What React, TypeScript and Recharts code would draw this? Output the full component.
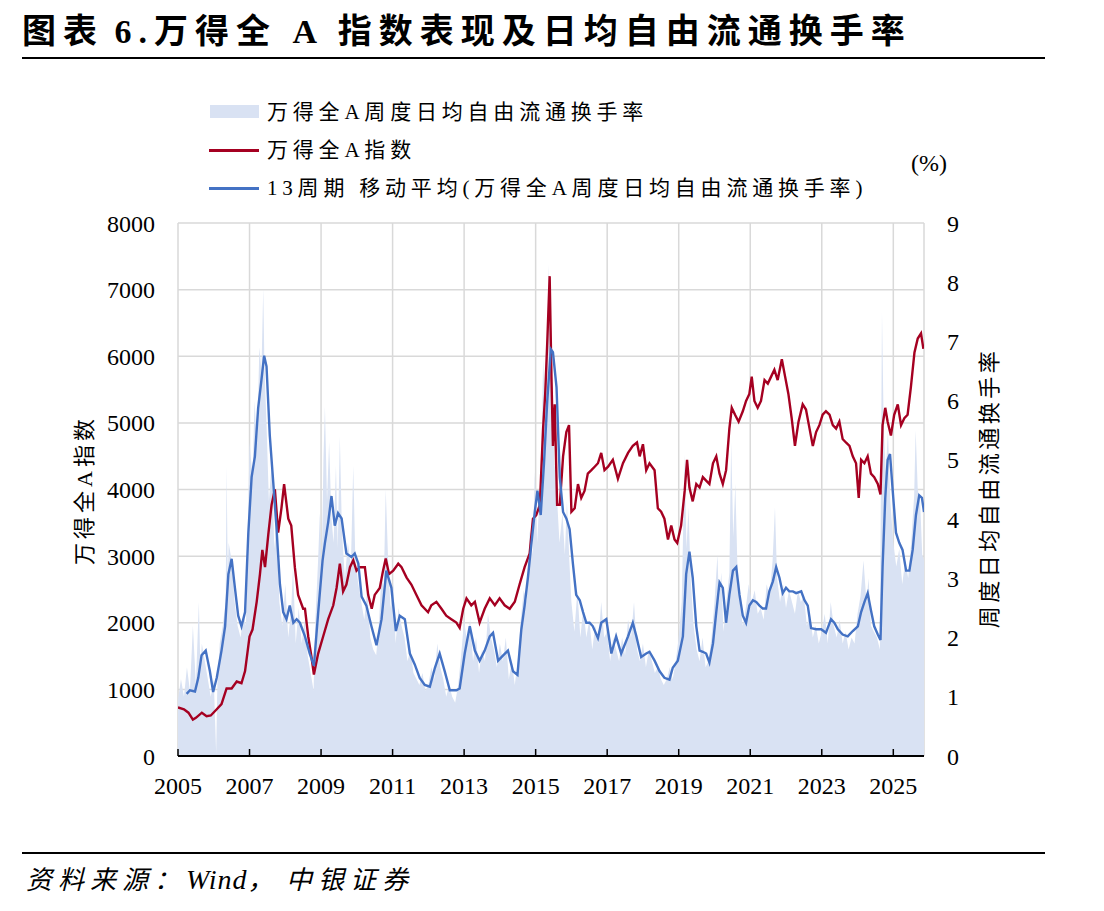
import React from 'react';
import { ComposedChart, Area, Line, XAxis, YAxis, CartesianGrid } from 'recharts';

// m = months since Jan 2005
const turnoverPts: [number, number][] = [
  [0, 0.95], [1, 1.3], [2, 1.0], [3, 1.5], [4, 1.1], [5, 2.2], [6, 1.2], [7, 2.6], [7.5, 1.5], [8, 1.9],
  [9, 1.6], [10, 1.3], [11, 1.0], [12, 1.3], [12.8, 0.05], [13.2, 1.2], [14, 1.9], [15, 2.2], [16, 2.6], [16.3, 4.9],
  [16.7, 3.0], [17, 3.6], [18, 3.3], [19, 2.6], [20, 2.2], [21, 2.0], [22, 2.4], [22.8, 2.2], [23.5, 4.0], [24, 5.3],
  [25, 4.7], [25.7, 6.0], [26.5, 5.2], [27.3, 6.9], [28, 6.5], [28.6, 7.9], [29, 6.6], [29.7, 5.6], [30.5, 4.3], [31.5, 5.0],
  [32.3, 3.5], [33, 3.9], [34, 2.6], [35, 2.2], [36, 2.9], [37, 2.0], [38, 2.5], [38.6, 3.2], [39.5, 1.9], [40.5, 2.5],
  [41.5, 1.9], [42.5, 2.3], [43.5, 1.7], [44.5, 1.4], [45.5, 1.1], [46, 2.2], [47, 3.3], [47.6, 4.1], [48.2, 3.1], [48.8, 5.0],
  [49.3, 5.9], [50, 4.3], [50.7, 5.3], [51.5, 4.0], [52.2, 3.6], [53, 4.9], [53.6, 3.5], [54.3, 5.4], [55, 3.8], [56, 3.0],
  [57, 3.6], [58, 3.2], [58.8, 4.9], [59.5, 3.3], [60.5, 2.9], [61.5, 2.6], [62.5, 2.3], [63.5, 2.8], [64.5, 2.0], [65.5, 1.8],
  [66.5, 1.7], [67.5, 2.3], [68.3, 3.1], [69, 2.8], [69.7, 4.5], [70.5, 3.3], [71.3, 2.5], [72.3, 2.9], [73, 1.9], [74, 2.5],
  [75, 2.2], [76, 2.0], [77, 1.6], [78, 1.8], [79, 1.4], [80, 1.3], [81, 1.2], [82, 1.4], [83, 1.1], [84, 1.2],
  [85, 1.5], [86, 1.3], [87, 1.9], [88, 1.5], [89, 1.3], [90, 1.0], [91, 1.2], [92, 1.0], [93, 0.9], [94, 1.2],
  [95, 1.7], [96, 2.3], [97, 1.9], [98, 2.3], [99, 1.6], [100, 2.0], [101, 1.4], [102, 1.8], [103, 1.6], [104, 2.4],
  [105, 2.0], [106, 1.8], [107, 1.5], [108, 1.9], [109, 1.6], [110, 2.0], [111, 1.3], [112, 1.6], [113, 1.2], [114, 1.6],
  [115, 2.3], [116, 2.8], [117, 2.6], [118, 3.8], [119, 3.4], [119.7, 4.8], [120.5, 3.6], [121.3, 4.4], [122, 5.3], [122.5, 6.7],
  [123.2, 5.8], [124, 7.4], [124.4, 8.3], [124.8, 6.9], [125.5, 6.4], [126.2, 5.0], [127, 4.5], [128, 3.6], [129, 4.1], [129.8, 3.4],
  [130.5, 4.3], [131.3, 3.3], [132, 2.6], [133, 2.1], [134, 2.8], [135, 2.0], [136, 2.5], [137, 2.0], [138, 2.3], [139, 1.8],
  [140, 2.2], [141, 1.9], [142, 2.6], [143, 2.0], [144, 2.1], [145, 1.6], [146, 2.0], [147, 1.8], [148, 1.6], [149, 2.0],
  [150, 1.7], [151, 2.3], [152, 2.0], [153, 2.6], [154, 1.8], [155, 1.6], [156, 1.9], [157, 1.5], [158, 1.8], [159, 1.6],
  [160, 1.4], [161, 1.5], [162, 1.3], [163, 1.2], [164, 1.3], [165, 1.5], [166, 1.3], [167, 1.6], [168, 2.0], [169, 2.6],
  [170, 5.1], [170.6, 3.5], [171.3, 4.2], [172, 3.0], [173, 2.2], [174, 1.8], [175, 1.6], [176, 2.0], [177, 1.5], [178, 1.6],
  [179, 2.0], [180, 2.6], [181, 3.4], [181.5, 2.6], [182.3, 3.1], [183, 2.1], [184, 2.6], [185, 3.1], [185.6, 5.3], [186.3, 3.7],
  [187, 4.6], [187.8, 3.0], [188.5, 2.6], [189.5, 2.2], [190.5, 2.5], [191.5, 2.9], [192.5, 2.6], [193.5, 2.8], [194.5, 2.4], [195.5, 2.5],
  [196.5, 2.3], [197.5, 2.9], [198.5, 2.7], [199.5, 3.3], [200.3, 4.2], [201, 3.0], [202, 2.6], [203, 2.9], [204, 2.5], [205, 2.8],
  [206, 2.6], [207, 2.4], [208, 2.8], [209, 2.6], [210, 2.7], [211, 2.2], [212, 2.4], [213, 2.0], [214, 2.2], [215, 1.9],
  [216, 2.1], [217, 2.4], [218, 1.9], [219, 2.6], [220, 2.2], [221, 2.0], [222, 2.3], [223, 1.9], [224, 2.1], [225, 1.8],
  [226, 2.0], [227, 1.9], [228, 2.4], [229, 2.7], [230, 3.3], [231, 2.6], [231.7, 3.0], [232.5, 2.2], [233.5, 2.1], [234.5, 2.0],
  [235.5, 1.8], [236.2, 7.5], [236.8, 5.5], [237.5, 4.8], [238.2, 5.5], [239, 4.3], [240, 3.6], [241, 3.2], [242, 3.5], [243, 2.9],
  [244, 3.3], [245, 3.0], [246, 3.6], [247, 4.4], [247.5, 5.5], [248.2, 4.5], [249, 4.3], [249.7, 3.4], [250.3, 3.3],
];

const indexPts: [number, number][] = [
  [0, 728], [2, 702], [3.5, 650], [5, 546], [6, 572], [8, 650], [9.6, 598], [11, 608], [13, 702], [14.6, 780],
  [16.3, 1014], [18, 1014], [19.7, 1118], [21.3, 1092], [22.5, 1274], [24, 1794], [25, 1898], [26.4, 2314], [27.5, 2730], [28.3, 3094],
  [29.2, 2834], [30.3, 3328], [31.4, 3770], [32.5, 4004], [33.6, 3354], [34.7, 3718], [35.6, 4082], [37, 3562], [38, 3458], [39.2, 2834],
  [40.3, 2418], [42, 2210], [42.6, 2210], [43.7, 1794], [44.8, 1482], [45.6, 1222], [47, 1534], [48.7, 1794], [50.4, 2054], [52.1, 2262],
  [53.2, 2522], [54.3, 2886], [55.4, 2470], [56.5, 2574], [57.7, 2834], [58.8, 2938], [59.9, 2782], [61, 2834], [62.7, 2834], [63.8, 2418],
  [65, 2210], [66, 2418], [67.7, 2522], [68.8, 2782], [69.7, 2964], [70.8, 2730], [72.2, 2782], [73.9, 2886], [75, 2834], [76.7, 2678],
  [78.3, 2574], [80, 2418], [81.7, 2262], [83.9, 2158], [85, 2262], [86.7, 2314], [88.4, 2210], [90, 2106], [91.7, 2054], [93.4, 2002],
  [94.5, 1924], [95.7, 2210], [96.8, 2366], [98.4, 2262], [99.6, 2314], [101.2, 2002], [102.9, 2210], [104.6, 2366], [106.3, 2262], [107.9, 2366],
  [109.6, 2262], [111.3, 2210], [113, 2314], [114.6, 2574], [116.3, 2834], [118, 3042], [119.1, 3562], [120.2, 3614], [121.4, 3770], [122.5, 4914],
  [123.2, 5434], [123.9, 6214], [124.7, 7202], [125.3, 5694], [125.8, 4654], [126.4, 5278], [127.2, 3770], [128.1, 3770], [129.2, 4498], [130.3, 4862],
  [131.2, 4966], [132, 3666], [133.1, 3718], [134.2, 4082], [135.3, 3874], [136.4, 3978], [137.5, 4238], [138.7, 4290], [139.8, 4342], [140.9, 4394],
  [142, 4550], [143.1, 4290], [144.3, 4342], [145.9, 4446], [147.6, 4160], [149.3, 4394], [151, 4550], [152.6, 4654], [154, 4706], [154.9, 4498],
  [156, 4680], [157.1, 4290], [158.2, 4394], [159.9, 4290], [161, 3718], [162.1, 3666], [163.2, 3562], [164.4, 3250], [165.5, 3458], [166.6, 3250],
  [167.5, 3198], [168.8, 3458], [170, 3978], [170.8, 4446], [171.6, 4030], [172.7, 3822], [173.9, 4082], [175, 4030], [176.1, 4186], [177.2, 4134],
  [178.3, 4082], [179.5, 4394], [180.6, 4498], [181.7, 4238], [182.8, 4082], [183.9, 4290], [185, 4914], [185.8, 5226], [186.9, 5122], [188.1, 5018],
  [189.5, 5174], [190.6, 5330], [191.7, 5434], [192.5, 5694], [193.4, 5330], [194.5, 5226], [195.6, 5330], [196.8, 5642], [197.9, 5590], [199, 5694],
  [200.1, 5798], [201.2, 5642], [202.6, 5954], [203.7, 5694], [204.8, 5434], [205.9, 5070], [207, 4654], [208.2, 5018], [209.6, 5278], [210.7, 5200],
  [211.9, 4914], [213, 4654], [214.1, 4862], [215.2, 4966], [216.3, 5122], [217.4, 5174], [218.6, 5122], [219.7, 4966], [220.8, 4914], [221.9, 5018],
  [223, 4758], [224.1, 4706], [225.3, 4654], [226.4, 4498], [227.5, 4394], [228.4, 3874], [229.2, 4446], [230.3, 4394], [231.4, 4498], [232.5, 4238],
  [233.6, 4186], [234.8, 4082], [235.7, 3926], [236.4, 4966], [237.3, 5226], [238.1, 5018], [239.2, 4810], [240.3, 5122], [241.5, 5278], [242.6, 4966],
  [243.7, 5070], [244.8, 5122], [245.9, 5538], [247.1, 6058], [248.2, 6266], [249.3, 6344], [250.1, 6110],
];

const maPts: [number, number][] = [
  [2.9, 1.05], [4, 1.11], [5.7, 1.09], [6.8, 1.32], [7.9, 1.70], [9.3, 1.78], [10.7, 1.43], [11.8, 1.08], [13, 1.32], [14.6, 1.78],
  [15.8, 2.19], [16.9, 3.07], [18, 3.33], [19.1, 2.84], [20.2, 2.37], [21.3, 2.19], [22.5, 2.43], [23.6, 3.77], [24.7, 4.71], [25.8, 5.06],
  [26.9, 5.88], [28, 6.35], [28.9, 6.76], [29.7, 6.58], [30.8, 5.41], [32, 4.59], [33, 3.89], [34.2, 2.90], [35.3, 2.43], [36.4, 2.31],
  [37.5, 2.54], [38.7, 2.25], [39.8, 2.31], [40.9, 2.25], [42.6, 2.02], [44.2, 1.73], [45.6, 1.52], [47, 2.40], [48.5, 3.30], [49.3, 3.60],
  [50.4, 3.95], [51.5, 4.39], [52.6, 3.89], [53.7, 4.10], [54.9, 4.01], [56.5, 3.42], [58.2, 3.36], [59.3, 3.42], [60.5, 3.25], [61.6, 2.69],
  [63.2, 2.54], [64.9, 2.19], [66.6, 1.87], [68.3, 2.31], [69.9, 3.13], [71.6, 2.84], [73.1, 2.11], [74.4, 2.37], [76.1, 2.31], [77.8, 1.73],
  [79.4, 1.55], [81.1, 1.32], [82.8, 1.20], [84.5, 1.17], [86.2, 1.49], [87.8, 1.73], [89.5, 1.43], [91.2, 1.11], [93.4, 1.11], [94.5, 1.14],
  [96.2, 1.73], [97.9, 2.19], [99.6, 1.78], [101.2, 1.61], [102.9, 1.78], [104.6, 2.02], [105.7, 2.08], [107.4, 1.61], [109.1, 1.70], [110.7, 1.78],
  [112.4, 1.43], [113.9, 1.37], [115.2, 2.14], [116.3, 2.54], [117.4, 3.01], [118.6, 3.60], [119.7, 4.12], [120.6, 4.48], [121.7, 4.07], [122.8, 4.94],
  [123.9, 6.00], [125.1, 6.87], [125.8, 6.82], [127, 6.23], [128.1, 4.71], [129.2, 4.12], [130.3, 4.01], [131.4, 3.83], [132.5, 3.25], [133.6, 2.72],
  [134.8, 2.63], [135.9, 2.43], [137, 2.25], [138.1, 2.25], [139.2, 2.19], [140.9, 1.99], [142, 2.25], [143.7, 2.31], [145.4, 1.73], [147, 2.02],
  [148.7, 1.73], [151, 2.02], [152.6, 2.25], [153.8, 2.02], [155.4, 1.67], [157.1, 1.73], [158.2, 1.76], [159.9, 1.61], [161.6, 1.43], [163.2, 1.32],
  [164.9, 1.29], [166, 1.49], [167.7, 1.61], [169.4, 2.02], [170.5, 3.07], [171.6, 3.45], [172.7, 3.01], [173.9, 2.19], [175, 1.78], [176.1, 1.76],
  [177.2, 1.73], [178.3, 1.58], [179.5, 1.90], [180.6, 2.43], [181.7, 2.93], [182.8, 2.84], [183.9, 2.25], [185, 2.72], [186.2, 3.13], [187.3, 3.19],
  [188.4, 2.72], [189.5, 2.37], [190.6, 2.25], [191.7, 2.54], [192.9, 2.63], [194, 2.60], [195.1, 2.54], [196.2, 2.49], [197.3, 2.49], [198.4, 2.78],
  [199.6, 2.95], [200.7, 3.19], [201.8, 3.01], [202.9, 2.75], [204, 2.84], [205.1, 2.78], [206.3, 2.78], [207.4, 2.75], [209.1, 2.78], [210.2, 2.63],
  [211.3, 2.54], [212.4, 2.16], [214.1, 2.14], [215.8, 2.14], [217.4, 2.08], [219.1, 2.31], [220.2, 2.25], [221.4, 2.14], [223, 2.05], [224.7, 2.02],
  [226.4, 2.11], [228.1, 2.19], [229.2, 2.43], [230.3, 2.60], [231.4, 2.75], [232.5, 2.46], [233.6, 2.19], [234.8, 2.05], [235.7, 1.96], [236.4, 3.19],
  [237.3, 4.36], [238.1, 5.00], [238.9, 5.10], [239.8, 4.48], [240.9, 3.77], [242, 3.60], [243.1, 3.48], [244.3, 3.13], [245.4, 3.13], [246.5, 3.48],
  [247.6, 4.07], [248.7, 4.40], [249.6, 4.36], [250.3, 4.12],
];

const xTickYears = [2005, 2007, 2009, 2011, 2013, 2015, 2017, 2019, 2021, 2023, 2025];
const leftTicks = [0, 1000, 2000, 3000, 4000, 5000, 6000, 7000, 8000];
const rightTicks = [0, 1, 2, 3, 4, 5, 6, 7, 8, 9];

const turnoverData = turnoverPts.map(([m, v]) => ({ m, turnover: v }));
const indexData = indexPts.map(([m, v]) => ({ m, index: v }));
const maData = maPts.map(([m, v]) => ({ m, ma: v }));
const xTicks = xTickYears.map((y) => (y - 2005) * 12);

const AREA = '#d9e2f3';
const RED = '#a50021';
const BLUE = '#4472c4';
const SERIF = '"Liberation Serif", "Noto Sans CJK SC", serif';

const W = 1104;
const H = 911;
const PLOT_L = 178;
const PLOT_R = 924;
const PLOT_T = 223;
const PLOT_B = 756;
const YW = 80;
const XH = 50;

const legendText: React.CSSProperties = {
  position: 'absolute', left: 267, fontSize: 21, letterSpacing: 4.8, whiteSpace: 'nowrap', lineHeight: '30px',
};

export default function App() {
  return (
    <div style={{ position: 'absolute', left: 0, top: 0, width: W, height: H, background: '#fff', fontFamily: SERIF, color: '#000' }}>
      <div style={{ position: 'absolute', left: 22, top: 10, fontSize: 34, fontWeight: 700, letterSpacing: 7, whiteSpace: 'nowrap', lineHeight: '44px' }}>
        图表<span style={{ letterSpacing: 2 }}> </span>6.万得全 A 指数表现及日均自由流通换手率
      </div>
      <div style={{ position: 'absolute', left: 22, top: 57, width: 1023, height: 2, background: '#000' }} />

      <ComposedChart
        width={W}
        height={H}
        margin={{ top: PLOT_T, bottom: H - PLOT_B - XH, left: PLOT_L - YW, right: W - PLOT_R - YW }}
        style={{ position: 'absolute', left: 0, top: 0, fontFamily: SERIF }}
      >
        <CartesianGrid yAxisId="left" stroke="#d9d9d9" strokeWidth={1.5} />
        <XAxis
          type="number"
          dataKey="m"
          domain={[0, 250.3]}
          ticks={xTicks}
          tickFormatter={(v: number) => String(2005 + Math.round(v / 12))}
          allowDataOverflow
          height={XH}
          interval={0}
          axisLine={{ stroke: '#000', strokeWidth: 2 }}
          tickLine={{ stroke: '#000', strokeWidth: 1.5 }}
          tickSize={-7}
          tickMargin={28}
          tick={{ fill: '#000', fontSize: 24, fontFamily: SERIF }}
        />
        <YAxis
          yAxisId="left"
          orientation="left"
          domain={[0, 8000]}
          ticks={leftTicks}
          interval={0}
          width={YW}
          axisLine={false}
          tickLine={false}
          tickMargin={17}
          tick={{ fill: '#000', fontSize: 24, fontFamily: SERIF }}
        />
        <YAxis
          yAxisId="right"
          orientation="right"
          domain={[0, 9]}
          ticks={rightTicks}
          interval={0}
          width={YW}
          axisLine={false}
          tickLine={false}
          tickMargin={17}
          tick={{ fill: '#000', fontSize: 24, fontFamily: SERIF, textAnchor: 'start' }}
        />
        <Area
          data={turnoverData}
          yAxisId="right"
          dataKey="turnover"
          type="linear"
          stroke="none"
          fill={AREA}
          fillOpacity={1}
          isAnimationActive={false}
        />
        <Line
          data={indexData}
          yAxisId="left"
          dataKey="index"
          type="linear"
          stroke={RED}
          strokeWidth={2.4}
          dot={false}
          isAnimationActive={false}
        />
        <Line
          data={maData}
          yAxisId="right"
          dataKey="ma"
          type="linear"
          stroke={BLUE}
          strokeWidth={2.4}
          dot={false}
          isAnimationActive={false}
        />
      </ComposedChart>

      {/* legend */}
      <div style={{ position: 'absolute', left: 210, top: 105, width: 49, height: 13, background: AREA }} />
      <div style={{ position: 'absolute', left: 209, top: 149, width: 50, height: 2.5, background: RED }} />
      <div style={{ position: 'absolute', left: 209, top: 187, width: 50, height: 2.5, background: BLUE }} />
      <div style={{ ...legendText, top: 97 }}>万得全A周度日均自由流通换手率</div>
      <div style={{ ...legendText, top: 135 }}>万得全A指数</div>
      <div style={{ ...legendText, top: 173 }}>13周期 移动平均(万得全A周度日均自由流通换手率)</div>

      <div style={{ position: 'absolute', left: 911, top: 148, fontSize: 24, whiteSpace: 'nowrap', lineHeight: '30px' }}>(%)</div>

      {/* axis titles */}
      <div style={{ position: 'absolute', left: 85, top: 490, transform: 'translate(-50%, -50%) rotate(-90deg)', fontSize: 22, letterSpacing: 4, whiteSpace: 'nowrap', lineHeight: '28px' }}>
        万得全A指数
      </div>
      <div style={{ position: 'absolute', left: 990, top: 488, transform: 'translate(-50%, -50%) rotate(-90deg)', fontSize: 22, letterSpacing: 3.5, whiteSpace: 'nowrap', lineHeight: '28px' }}>
        周度日均自由流通换手率
      </div>

      <div style={{ position: 'absolute', left: 22, top: 852, width: 1023, height: 2, background: '#000' }} />
      <div style={{ position: 'absolute', left: 26, top: 863, fontSize: 26, fontStyle: 'italic', letterSpacing: 6, whiteSpace: 'nowrap', lineHeight: '34px' }}>
        资料来源：<span style={{ fontSize: 28, letterSpacing: 1 }}>Wind</span>，<span style={{ letterSpacing: 0 }}> </span>中银证券
      </div>
    </div>
  );
}
